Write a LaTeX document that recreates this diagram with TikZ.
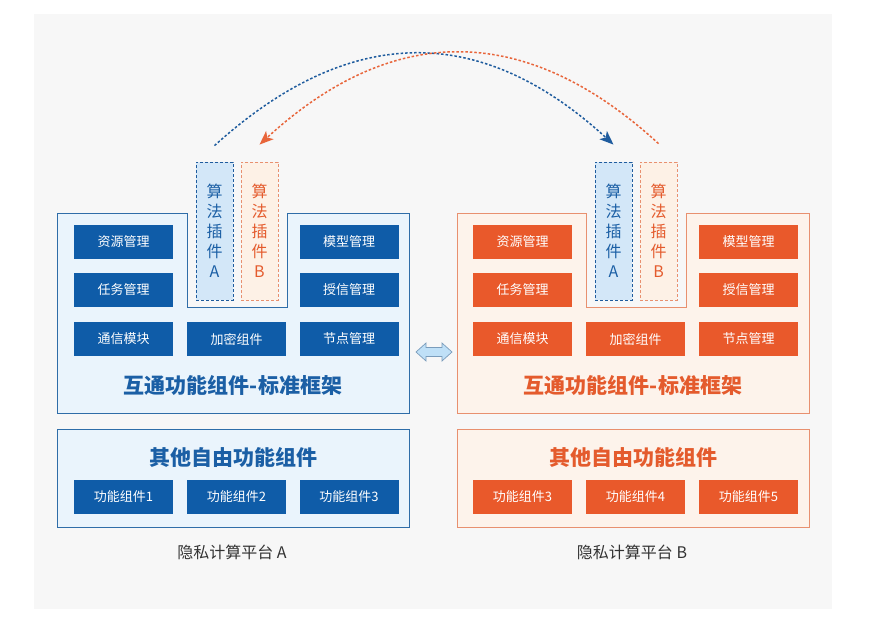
\documentclass[tikz,border=0pt]{standalone}
\usepackage{fontspec}
\setmainfont{Noto Sans CJK SC}
\usetikzlibrary{arrows.meta,calc}
\definecolor{panel}{HTML}{F7F7F7}
\definecolor{bbox}{HTML}{0F5CA8}
\definecolor{obox}{HTML}{E9592B}
\definecolor{bframefill}{HTML}{EAF4FC}
\definecolor{bframeline}{HTML}{2F6DA8}
\definecolor{oframefill}{HTML}{FDF3EB}
\definecolor{oframeline}{HTML}{E8906F}
\definecolor{bplugfill}{HTML}{D3E7F8}
\definecolor{oplugfill}{HTML}{FDF1E6}
\definecolor{btext}{HTML}{1B5FA5}
\definecolor{otext}{HTML}{E45B2D}
\definecolor{barc}{HTML}{1F5C9E}
\definecolor{oarc}{HTML}{E8653A}
\definecolor{linkfill}{HTML}{BFE0F7}
\definecolor{linkline}{HTML}{7A9CBB}
\definecolor{labeltext}{HTML}{333333}
\begin{document}
\begin{tikzpicture}[x=1pt,y=-1pt,
  modbox/.style={minimum width=99pt,minimum height=34pt,inner sep=0pt,text=white,
    font=\fontsize{13}{15}\selectfont},
  bmod/.style={modbox,fill=bbox},
  omod/.style={modbox,fill=obox},
  plug/.style={minimum width=37pt,minimum height=138pt,inner sep=0pt,align=center,
    dash pattern=on 3pt off 2pt,line width=0.8pt,font=\fontsize{16}{20}\selectfont},
  bplug/.style={plug,fill=bplugfill,draw=barc,text=btext},
  oplug/.style={plug,fill=oplugfill,draw=oframeline,text=otext},
  title/.style={font=\fontsize{21}{24}\selectfont\bfseries,inner sep=0pt},
  platlabel/.style={font=\fontsize{16}{18}\selectfont,text=labeltext,inner sep=0pt},
  arcline/.style={line width=1.5pt,dash pattern=on 2.5pt off 2pt,
    -{Stealth[length=14pt,width=11pt,inset=3.5pt]}}
]
\fill[white] (0,0) rectangle (882,621);
\useasboundingbox (0,0) rectangle (882,621);
\fill[panel] (34,14) rectangle (832,609);

% ---------- left platform ----------
\filldraw[fill=bframefill,draw=bframeline,line width=0.9pt]
  (57,213) -- (187,213) -- (187,307) -- (287,307) -- (287,213) -- (409,213)
  -- (409,413) -- (57,413) -- cycle;
\node[bplug] (pLA) at (214.5,231) {算\\法\\插\\件\\A};
\node[oplug] (pLB) at (259.5,231) {算\\法\\插\\件\\B};
\node[bmod] (l11) at (123.5,242) {资源管理};
\node[bmod] (l21) at (123.5,290) {任务管理};
\node[bmod] (l31) at (123.5,339) {通信模块};
\node[bmod] (l32) at (236.5,339) {加密组件};
\node[bmod] (l13) at (349,242) {模型管理};
\node[bmod] (l23) at (349,290) {授信管理};
\node[bmod] (l33) at (349,339) {节点管理};
\node[title,text=btext] (lt) at (233,385) {互通功能组件-标准框架};

\filldraw[fill=bframefill,draw=bframeline,line width=0.9pt] (57,429) rectangle (409,527);
\node[title,text=btext] (lft) at (233,457) {其他自由功能组件};
\node[bmod] (lf1) at (123.5,497) {功能组件1};
\node[bmod] (lf2) at (236.5,497) {功能组件2};
\node[bmod] (lf3) at (349,497) {功能组件3};
\node[platlabel] (lab) at (232,552) {隐私计算平台 A};

% ---------- right platform ----------
\filldraw[fill=oframefill,draw=oframeline,line width=0.9pt]
  (457,213) -- (586,213) -- (586,307) -- (686,307) -- (686,213) -- (809,213)
  -- (809,413) -- (457,413) -- cycle;
\node[bplug] (pRA) at (613.5,231) {算\\法\\插\\件\\A};
\node[oplug] (pRB) at (658.5,231) {算\\法\\插\\件\\B};
\node[omod] (r11) at (522.5,242) {资源管理};
\node[omod] (r21) at (522.5,290) {任务管理};
\node[omod] (r31) at (522.5,339) {通信模块};
\node[omod] (r32) at (635.5,339) {加密组件};
\node[omod] (r13) at (748.5,242) {模型管理};
\node[omod] (r23) at (748.5,290) {授信管理};
\node[omod] (r33) at (748.5,339) {节点管理};
\node[title,text=otext] (rt) at (633,385) {互通功能组件-标准框架};

\filldraw[fill=oframefill,draw=oframeline,line width=0.9pt] (457,429) rectangle (809,527);
\node[title,text=otext] (rft) at (633,457) {其他自由功能组件};
\node[omod] (rf1) at (522.5,497) {功能组件3};
\node[omod] (rf2) at (635.5,497) {功能组件4};
\node[omod] (rf3) at (748.5,497) {功能组件5};
\node[platlabel] (rab) at (632,552) {隐私计算平台 B};

% ---------- double arrow between platforms ----------
\coordinate (lk) at (434,352);
\filldraw[fill=linkfill,draw=linkline,line width=0.7pt]
  ($(lk)+(-18,0)$) -- ($(lk)+(-8,-9)$) -- ($(lk)+(-8,-4.5)$) -- ($(lk)+(8,-4.5)$)
  -- ($(lk)+(8,-9)$) -- ($(lk)+(18,0)$) -- ($(lk)+(8,9)$) -- ($(lk)+(8,4.5)$)
  -- ($(lk)+(-8,4.5)$) -- ($(lk)+(-8,9)$) -- cycle;

% ---------- arcs ----------
\coordinate (bs) at ($(pLA.north)+(0,-16)$);
\coordinate (be) at ($(pRA.north)+(0,-17)$);
\coordinate (os) at ($(pRB.north)+(0,-18)$);
\coordinate (oe) at ($(pLB.north)+(0,-17)$);
\draw[arcline,draw=barc] (bs) .. controls ($(bs)+(135,-122)$) and ($(be)+(-133,-122)$) .. (be);
\draw[arcline,draw=oarc] (os) .. controls ($(os)+(-133,-122)$) and ($(oe)+(133,-122)$) .. (oe);
\end{tikzpicture}
\end{document}
